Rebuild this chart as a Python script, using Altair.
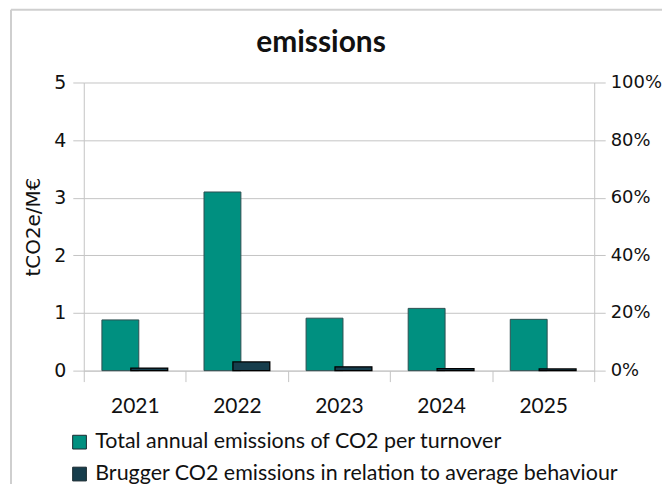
import altair as alt
import pandas as pd

years = ["2021", "2022", "2023", "2024", "2025"]
total_per_turnover = [0.88, 3.10, 0.91, 1.08, 0.89]          # tCO2e/M€ (left axis)
brugger_vs_average = [0.009, 0.030, 0.013, 0.007, 0.006]     # share (right axis)
series_names = [
    "Total annual emissions of CO2 per turnover",
    "Brugger CO2 emissions in relation to average behaviour",
]
colors = ["#009080", "#163D4C"]
chart_title = "emissions"

df = pd.DataFrame({
    "year": years * 2,
    "series": [series_names[0]] * 5 + [series_names[1]] * 5,
    "value": total_per_turnover + brugger_vs_average,
})

GRID = "#c4c4c4"
W, H = 512, 289

color = alt.Color(
    "series:N",
    scale=alt.Scale(domain=series_names, range=colors),
    legend=alt.Legend(
        orient="none", legendX=-15, legendY=350, title=None,
        symbolType="square", symbolSize=190, symbolStrokeColor="#1a2a30",
        symbolStrokeWidth=1, labelFont="Lato", labelFontSize=21.5, labelLimit=0,
        labelColor="#111", rowPadding=9, padding=0, labelOffset=5,
        direction="vertical",
    ),
)

x = alt.X(
    "year:N", sort=years, title=None,
    scale=alt.Scale(paddingInner=0, paddingOuter=0),
    axis=alt.Axis(labelAngle=0, labelFont="Lato", labelFontSize=21, labelColor="#111",
                  tickBand="extent", tickSize=11, tickColor=GRID, domainColor=GRID,
                  labelPadding=14, grid=False),
)

green = alt.Chart(df).transform_filter(
    alt.datum.series == series_names[0]
).mark_bar(width=37, xOffset=-14.5, stroke="#2c4f50", strokeWidth=1).encode(
    x=x,
    y=alt.Y("value:Q", title="tCO2e/M€",
            scale=alt.Scale(domain=[0, 5], nice=False),
            axis=alt.Axis(values=[0, 1, 2, 3, 4, 5], format="d", grid=True, gridColor=GRID,
                          domainColor=GRID, tickColor=GRID, tickSize=11,
                          labelFont="DejaVu Sans", labelFontSize=19, labelColor="#111",
                          labelPadding=7, titleFont="DejaVu Sans", titleFontSize=20,
                          titleFontWeight="normal", titleColor="#111", titlePadding=10)),
    color=color,
)

dark = alt.Chart(df).transform_filter(
    alt.datum.series == series_names[1]
).mark_bar(width=37, xOffset=14.5, stroke="#000000", strokeWidth=1.3).encode(
    x=x,
    y=alt.Y("value:Q", title=None,
            scale=alt.Scale(domain=[0, 1], nice=False),
            axis=alt.Axis(orient="right", values=[0, 0.2, 0.4, 0.6, 0.8, 1.0], format=".0%",
                          grid=False, domainColor=GRID, tickColor=GRID, tickSize=11,
                          labelFont="DejaVu Sans", labelFontSize=18, labelColor="#111",
                          labelPadding=5)),
    color=color,
)

one = alt.Data(values=[{"k": 1}])
top_border = alt.Chart(one).mark_rule(color="#cfcfcf", strokeWidth=2).encode(
    x=alt.value(-73), x2=alt.value(700), y=alt.value(-73))
left_border = alt.Chart(one).mark_rule(color="#cfcfcf", strokeWidth=2).encode(
    x=alt.value(-73), y=alt.value(-73), y2=alt.value(500))
title_text = alt.Chart(one).mark_text(
    font="Lato", fontSize=30, fontWeight="bold", color="#111", align="center",
    baseline="alphabetic").encode(
    text=alt.value(chart_title), x=alt.value(238), y=alt.value(-31))

chart = alt.layer(green, dark, top_border, left_border, title_text).resolve_scale(
    y="independent"
).properties(
    width=W, height=H,
    autosize=alt.AutoSizeParams(type="none"),
    padding={"left": 76, "top": 74, "right": 68, "bottom": 113},
).configure_view(stroke=None)

chart.save("out.html", embed_options={"renderer": "svg", "actions": False})
